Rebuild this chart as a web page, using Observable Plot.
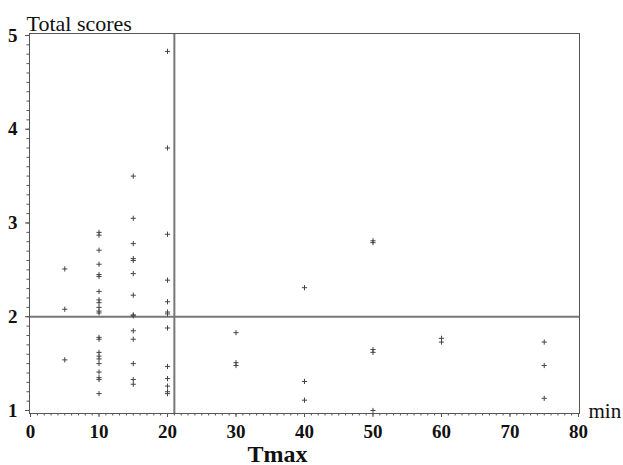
<!DOCTYPE html>
<html>
<head>
<meta charset="utf-8">
<script src="https://cdn.jsdelivr.net/npm/d3@7"></script>
<script src="https://cdn.jsdelivr.net/npm/@observablehq/plot@0.6"></script>
<style>
  html, body { margin: 0; padding: 0; background: #fff; }
  #chart svg { display: block; }
  #chart svg, #chart svg text { font-family: "Liberation Serif", "Times New Roman", serif !important; }
</style>
</head>
<body>
<div id="chart"></div>
<script>
// Tmax (min) groups and total scores
const tmax5  = [2.51, 2.08, 1.54];
const tmax10 = [2.90, 2.87, 2.71, 2.56, 2.45, 2.43, 2.27, 2.18, 2.15, 2.10, 2.06, 2.04, 1.78, 1.76, 1.62, 1.58, 1.55, 1.50, 1.41, 1.35, 1.33, 1.18];
const tmax15 = [3.50, 3.05, 2.78, 2.62, 2.60, 2.46, 2.23, 2.02, 2.01, 1.85, 1.76, 1.50, 1.33, 1.28];
const tmax20 = [4.83, 3.80, 2.88, 2.39, 2.16, 2.05, 2.03, 1.88, 1.47, 1.34, 1.26, 1.20, 1.18];
const tmax30 = [1.83, 1.51, 1.48];
const tmax40 = [2.31, 1.31, 1.11];
const tmax50 = [2.81, 2.79, 1.65, 1.62, 1.00];
const tmax60 = [1.77, 1.73];
const tmax75 = [1.73, 1.48, 1.13];
const groups = [[5, tmax5], [10, tmax10], [15, tmax15], [20, tmax20], [30, tmax30],
                [40, tmax40], [50, tmax50], [60, tmax60], [75, tmax75]];

const xTicks = [0, 10, 20, 30, 40, 50, 60, 70, 80];
const yTicks = [1, 2, 3, 4, 5];
const xMinorTicks = d3.range(0, 81);
const yMinorTicks = d3.range(10, 51).map(d => d / 10);
const refTmax = 21;
const refScore = 2;
const yTitle = "Total scores";
const xTitle = "Tmax";
const xUnit = "min";

const data = groups.flatMap(([t, vals]) => vals.map(s => ({t, s})));

const plusSymbol = {
  draw(context, size) {
    const r = Math.sqrt(size / Math.PI);
    context.moveTo(-r, 0); context.lineTo(r, 0);
    context.moveTo(0, -r); context.lineTo(0, r);
  }
};

const chart = Plot.plot({
  width: 623,
  height: 465,
  marginLeft: 29,
  marginRight: 44,
  marginTop: 33,
  marginBottom: 52,
  style: {background: "#fff", color: "#222"},
  x: {domain: [-0.15, 80.15], axis: null},
  y: {domain: [0.968, 5.021], axis: null},
  marks: [
    Plot.ruleX([refTmax], {stroke: "#777", strokeWidth: 2}),
    Plot.ruleY([refScore], {stroke: "#777", strokeWidth: 2}),
    Plot.frame({stroke: "#555", strokeWidth: 1}),
    Plot.axisX({anchor: "bottom", ticks: xMinorTicks, tickSize: 2.5, text: null, label: null, stroke: "#555"}),
    Plot.axisX({anchor: "bottom", ticks: xTicks, tickSize: 4, tickPadding: 7, tickFormat: d => String(d), label: null,
                fontSize: 19, fontWeight: "bold", fill: "#111", stroke: "#555"}),
    Plot.axisY({anchor: "left", ticks: yMinorTicks, tickSize: 2.5, text: null, label: null, stroke: "#555"}),
    Plot.axisY({anchor: "left", ticks: yTicks, tickSize: 4, tickPadding: 8, tickFormat: d => String(d), label: null,
                fontSize: 19, fontWeight: "bold", fill: "#111", stroke: "#555"}),
    Plot.dot(data, {x: "t", y: "s", symbol: plusSymbol, r: 2.6, stroke: "#444", strokeWidth: 1, fill: "none"}),
    Plot.text([yTitle], {frameAnchor: "top-left", textAnchor: "start", lineAnchor: "bottom", dx: -3, dy: -3,
                         fontSize: 22, fill: "#111"}),
    Plot.text([xUnit], {frameAnchor: "bottom-right", textAnchor: "start", lineAnchor: "bottom", dx: 9, dy: 4,
                        fontSize: 21, fill: "#111"}),
    Plot.text([xTitle], {frameAnchor: "bottom", textAnchor: "end", lineAnchor: "bottom", dx: 3, dy: 48,
                         fontSize: 24, fontWeight: "bold", fill: "#111"})
  ]
});
document.getElementById("chart").appendChild(chart);
</script>
</body>
</html>
